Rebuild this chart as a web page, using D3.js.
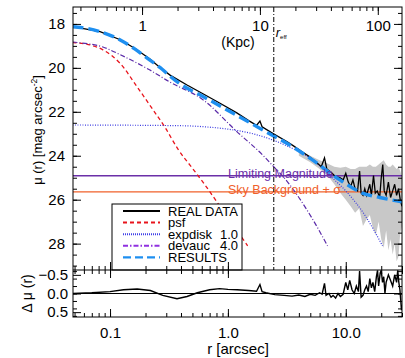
<!DOCTYPE html>
<html>
<head>
<meta charset="utf-8">
<script src="https://cdn.jsdelivr.net/npm/d3@7"></script>
<style>
  body { margin: 0; background: #fff; }
  text { font-family: "Liberation Sans", Arial, sans-serif; fill: #000; }
</style>
</head>
<body>
<svg id="chart" width="405" height="358"></svg>
<script>
// ---- data (radius in arcsec, mu in mag/arcsec^2) ----
const dataR  = [0.048,0.0536,0.0823,0.122,0.163,0.218,0.265,0.323,0.45,0.614,0.85,1.19,1.5,1.75,1.87,1.95,2.4,3.16,3.6,4.2,4.8,5.5,6.2,6.6,6.9,7.5,8.2,8.9,9.5,10.0,10.5,11,11.5,12,12.6,13.1,13.5,14,14.5,15,16,16.5,17.2,17.8,18.5,19.4,20,20.6,21.2,22,23,24,25,26,27,28,29,30];
const dataMu = [18.15,18.17,18.35,18.72,19.12,19.6,19.98,20.33,20.78,21.18,21.6,22.05,22.4,22.62,22.42,22.68,22.98,23.35,23.55,23.8,24.0,24.25,24.5,24.1,24.6,24.75,24.95,25.0,25.1,24.8,25.2,25.4,25.1,25.5,25.6,24.7,25.7,25.8,25.5,25.8,25.3,25.8,24.9,25.7,25.6,25.9,25.0,24.4,25.6,25.8,25.2,25.9,25.6,25.3,25.8,25.5,26.0,26.3];

const bandR     = [4.0,5.0,6.0,7.0,8.0,9.0,10,11,12,13,14,15,16,17,18,19,20,21,22,23,24,25,26,27,28,29,30];
const bandUpper = [23.8,24.0,24.2,24.35,24.5,24.55,24.5,24.6,24.6,24.5,24.5,24.5,24.4,24.5,24.5,24.4,24.3,24.2,24.4,24.5,24.5,24.4,24.5,24.6,24.5,24.7,25.0];
const bandLower = [24.0,24.3,24.6,24.9,25.3,25.7,26.0,26.3,26.6,26.4,27.2,26.9,26.7,27.3,27.6,27.0,27.8,28.2,27.4,28.3,27.8,28.5,28.0,28.8,28.6,27.5,27.2];

const psfR  = [0.048,0.054,0.087,0.122,0.169,0.231,0.292,0.377,0.505,0.614,0.807,1.19,1.47];
const psfMu = [18.85,18.87,19.18,19.8,20.85,21.9,22.7,23.7,24.6,25.2,26.1,27.4,28.1];

const diskR  = [0.048,0.37,1.19,2.45,3.16,5.25,7.3,10,14.5,20.5];
const diskMu = [22.6,22.63,22.85,23.3,23.55,24.2,24.9,25.6,26.7,28.1];

const devR  = [0.048,0.0536,0.087,0.122,0.218,0.323,0.614,1.19,2.0,2.4,3.0,4.0,5.25,7.0];
const devMu = [18.82,18.85,19.05,19.4,20.1,20.65,21.45,22.9,24.0,24.45,25.0,25.9,26.9,28.1];

const modelR  = [0.048,0.0536,0.0823,0.122,0.163,0.218,0.265,0.323,0.39,0.614,1.19,2.40,3.16,5.25,8.9,13.9,19.4,30];
const modelMu = [18.13,18.15,18.35,18.73,19.15,19.65,19.98,20.38,20.72,21.3,22.16,23.08,23.43,24.2,25.1,25.7,25.9,26.1];

const resR  = [0.048,0.07,0.1,0.13,0.17,0.22,0.28,0.37,0.45,0.55,0.7,0.85,1.0,1.2,1.5,1.75,1.87,1.95,2.1,2.5,3,3.5,4.0,4.5,5,5.5,6.0,6.3,6.6,6.8,7.2,7.5,7.8,8.2,8.6,9.0,9.5,10,10.4,10.8,11.3,11.8,12.3,12.8,13.1,13.5,14,14.5,15,15.5,16,16.5,17,17.6,18.2,18.6,19,19.6,20,20.5,21,21.5,22,23,24,25,26,27,27.6,28.2,28.8,29.3,29.7,30];
const resMu = [0.0,-0.02,-0.05,-0.1,-0.12,-0.08,0.05,0.14,0.08,-0.02,-0.1,-0.13,-0.11,-0.1,-0.08,-0.06,-0.24,-0.05,-0.02,0.03,0.05,0.07,0.04,0.08,0.02,0.05,-0.02,0.02,-0.27,0.05,0.0,0.1,0.05,0.12,0.0,0.08,0.02,-0.3,-0.1,-0.35,-0.1,0.0,-0.2,-0.05,-0.6,0.1,0.05,-0.1,-0.2,-0.05,-0.4,-0.15,-0.3,-0.05,-0.45,-0.62,-0.2,-0.55,-0.62,-0.3,-0.45,0.0,-0.3,-0.5,-0.35,-0.2,-0.5,-0.3,-0.62,-0.3,-0.1,0.2,0.45,0.3];

const limitMag = 24.91;
const skyMag = 25.64;
const rEff = 2.45;
const kpcPerArcsec = 5.35;

const muTicks = [18,20,22,24,26,28];
const resTicks = [-0.5,0.0,0.5];
const rTicks = [0.1,1,10];
const kpcTicks = [1,10,100];

const legendNames = ["REAL DATA","psf","expdisk","devauc","RESULTS"];
const legendIdx = ["","","1.0","4.0",""];

// ---- layout ----
const pLeft = 73, pRight = 402, pTop = 7, pMid = 270, pBottom = 317;

const svg = d3.select("#chart");

const x = d3.scaleLog().domain([0.0485, 30]).range([pLeft, pRight]);
const xk = d3.scaleLog().domain([0.0485*kpcPerArcsec, 30*kpcPerArcsec]).range([pLeft, pRight]);
const y = d3.scaleLinear().domain([17.23, 29.2]).range([pTop, pMid]);
const yr = d3.scaleLinear().domain([-0.63, 0.63]).range([pMid, pBottom]);

svg.append("clipPath").attr("id","clipMain")
  .append("rect").attr("x",pLeft).attr("y",pTop).attr("width",pRight-pLeft).attr("height",pMid-pTop);
svg.append("clipPath").attr("id","clipRes")
  .append("rect").attr("x",pLeft).attr("y",pMid).attr("width",pRight-pLeft).attr("height",pBottom-pMid);

const main = svg.append("g").attr("clip-path","url(#clipMain)");

// gray error band
const band = bandR.map((r,i) => ({r:r, hi:bandUpper[i], lo:bandLower[i]}));
main.append("path")
  .datum(band)
  .attr("fill","#c8c8c8")
  .attr("d", d3.area().x(d => x(d.r)).y0(d => y(d.lo)).y1(d => y(d.hi)));

// horizontal reference lines
main.append("line").attr("x1",pLeft).attr("x2",pRight).attr("y1",y(limitMag)).attr("y2",y(limitMag))
  .attr("stroke","#6b2fa8").attr("stroke-width",1.3);
main.append("line").attr("x1",pLeft).attr("x2",pRight).attr("y1",y(skyMag)).attr("y2",y(skyMag))
  .attr("stroke","#f0602a").attr("stroke-width",1.3);

// r_eff
svg.append("line").attr("x1",x(rEff)).attr("x2",x(rEff)).attr("y1",pTop).attr("y2",pMid)
  .attr("stroke","#000").attr("stroke-width",1).attr("stroke-dasharray","5,2,1,2");

function curve(rs, mus) {
  return d3.line().x(d => x(d[0])).y(d => y(d[1])).curve(d3.curveMonotoneX)(rs.map((r,i) => [r, mus[i]]));
}

main.append("path").attr("d", curve(psfR, psfMu)).attr("fill","none")
  .attr("stroke","#e8141c").attr("stroke-width",1.3).attr("stroke-dasharray","4,3");
main.append("path").attr("d", curve(diskR, diskMu)).attr("fill","none")
  .attr("stroke","#3a3ae0").attr("stroke-width",1.2).attr("stroke-dasharray","1,1.5");
main.append("path").attr("d", curve(devR, devMu)).attr("fill","none")
  .attr("stroke","#5a2aa8").attr("stroke-width",1.2).attr("stroke-dasharray","5,2,1,2");

main.append("path").attr("d", d3.line().x(d => x(d[0])).y(d => y(d[1]))(dataR.map((r,i) => [r, dataMu[i]])))
  .attr("fill","none").attr("stroke","#000").attr("stroke-width",1.3);

main.append("path").attr("d", curve(modelR, modelMu)).attr("fill","none")
  .attr("stroke","#1e8ff0").attr("stroke-width",3.4).attr("stroke-dasharray","11,5");

// texts on the lines
svg.append("text").attr("x",228).attr("y",y(limitMag)+2).attr("font-size",12.5)
  .style("fill","#6b2fa8").text("Limiting Magnitude");
svg.append("text").attr("x",228).attr("y",y(skyMag)+2).attr("font-size",12.5)
  .style("fill","#f0602a").text("Sky Background + σ");

// r_eff label
const reffLabel = svg.append("text").attr("x",x(rEff)+2).attr("y",37).attr("font-size",13);
reffLabel.append("tspan").attr("font-style","italic").text("r");
reffLabel.append("tspan").attr("font-size",6).attr("dy",2).text("eff");

svg.append("text").attr("x",238).attr("y",47).attr("text-anchor","middle").attr("font-size",14).text("(Kpc)");

// legend
const lg = svg.append("g");
lg.append("rect").attr("x",112).attr("y",204).attr("width",130).attr("height",pMid-204)
  .attr("fill","#fff").attr("stroke","#000").attr("stroke-width",1);
const legStyles = [
  {c:"#000", w:2, d:null},
  {c:"#e8141c", w:2, d:"4,3"},
  {c:"#4040e8", w:2, d:"1,1"},
  {c:"#9030e0", w:2, d:"5,2,1.5,2"},
  {c:"#1e8ff0", w:2.2, d:"8,4"}
];
legendNames.forEach((n,i) => {
  const yy = 211 + i*11.6;
  lg.append("line").attr("x1",123).attr("x2",160).attr("y1",yy).attr("y2",yy)
    .attr("stroke",legStyles[i].c).attr("stroke-width",legStyles[i].w)
    .attr("stroke-dasharray",legStyles[i].d);
  lg.append("text").attr("x",168).attr("y",yy+4.6).attr("font-size",13).text(n);
  if (legendIdx[i]) lg.append("text").attr("x",238).attr("y",yy+4.6).attr("text-anchor","end")
    .attr("font-size",13).text(legendIdx[i]);
});

// residual panel
const res = svg.append("g").attr("clip-path","url(#clipRes)");
res.append("line").attr("x1",pLeft).attr("x2",pRight).attr("y1",yr(0)).attr("y2",yr(0))
  .attr("stroke","#000").attr("stroke-width",1);
res.append("path").attr("d", d3.line().x(d => x(d[0])).y(d => yr(d[1]))(resR.map((r,i) => [r, resMu[i]])))
  .attr("fill","none").attr("stroke","#000").attr("stroke-width",1.4);

// ---- axes ----
function minorLog(lo, hi) {
  const out = [];
  for (let p = Math.floor(Math.log10(lo)); p <= Math.ceil(Math.log10(hi)); p++) {
    for (let m = 1; m < 10; m++) {
      const v = m * Math.pow(10, p);
      if (v >= lo && v <= hi) out.push(v);
    }
  }
  return out;
}
const rMinor = minorLog(0.0485, 30);
const kMinor = minorLog(0.0485*kpcPerArcsec, 30*kpcPerArcsec);
const muMinor = d3.range(17.5, 29.01, 0.5);
const resMinor = d3.range(-0.6, 0.61, 0.2);

function addAxis(axis, tx, ty) {
  const g = svg.append("g").attr("transform", "translate(" + tx + "," + ty + ")").call(axis);
  g.select(".domain").remove();
  g.selectAll("text").attr("font-size", 15).attr("font-family", "Liberation Sans, Arial, sans-serif");
  return g;
}

// bottom x axis (residual)
addAxis(d3.axisBottom(x).tickValues(rMinor).tickSize(-4).tickFormat(""), 0, pBottom);
addAxis(d3.axisBottom(x).tickValues(rTicks).tickSize(-8).tickPadding(10)
  .tickFormat(d => d === 0.1 ? "0.1" : d3.format(".1f")(d)), 0, pBottom);
// residual top ticks
addAxis(d3.axisBottom(x).tickValues(rMinor).tickSize(4).tickFormat(""), 0, pMid);
addAxis(d3.axisBottom(x).tickValues(rTicks).tickSize(8).tickFormat(""), 0, pMid);
// main bottom ticks
addAxis(d3.axisTop(x).tickValues(rMinor).tickSize(4).tickFormat(""), 0, pMid);
addAxis(d3.axisTop(x).tickValues(rTicks).tickSize(8).tickFormat(""), 0, pMid);
// top kpc axis, labels inside
addAxis(d3.axisBottom(xk).tickValues(kMinor).tickSize(4).tickFormat(""), 0, pTop);
addAxis(d3.axisBottom(xk).tickValues(kpcTicks).tickSize(8).tickPadding(5).tickFormat(d3.format("d")), 0, pTop);

// left/right mu
addAxis(d3.axisLeft(y).tickValues(muMinor).tickSize(-4).tickFormat(""), pLeft, 0);
addAxis(d3.axisLeft(y).tickValues(muTicks).tickSize(-8).tickPadding(8).tickFormat(d3.format("d")), pLeft, 0);
addAxis(d3.axisRight(y).tickValues(muMinor).tickSize(-4).tickFormat(""), pRight, 0);
addAxis(d3.axisRight(y).tickValues(muTicks).tickSize(-8).tickFormat(""), pRight, 0);

// left/right residual
addAxis(d3.axisLeft(yr).tickValues(resMinor).tickSize(-4).tickFormat(""), pLeft, 0);
addAxis(d3.axisLeft(yr).tickValues(resTicks).tickSize(-8).tickPadding(5).tickFormat(d3.format(".1f")), pLeft, 0);
addAxis(d3.axisRight(yr).tickValues(resMinor).tickSize(-4).tickFormat(""), pRight, 0);
addAxis(d3.axisRight(yr).tickValues(resTicks).tickSize(-8).tickFormat(""), pRight, 0);

// frames
svg.append("rect").attr("x",pLeft).attr("y",pTop).attr("width",pRight-pLeft).attr("height",pBottom-pTop)
  .attr("fill","none").attr("stroke","#000").attr("stroke-width",1);
svg.append("line").attr("x1",pLeft).attr("x2",pRight).attr("y1",pMid).attr("y2",pMid)
  .attr("stroke","#000").attr("stroke-width",1);

// axis titles
svg.append("text").attr("transform","translate(42," + 130 + ") rotate(-90)")
  .attr("text-anchor","middle").attr("font-size",13)
  .html('μ (r) [mag arcsec<tspan font-size="8.5" dy="-5">-2</tspan><tspan dy="5">]</tspan>');
svg.append("text").attr("transform","translate(32," + yr(0) + ") rotate(-90)")
  .attr("text-anchor","middle").attr("font-size",14).text("Δ μ (r)");
svg.append("text").attr("x",238).attr("y",354).attr("text-anchor","middle").attr("font-size",15).text("r [arcsec]");
</script>
</body>
</html>
